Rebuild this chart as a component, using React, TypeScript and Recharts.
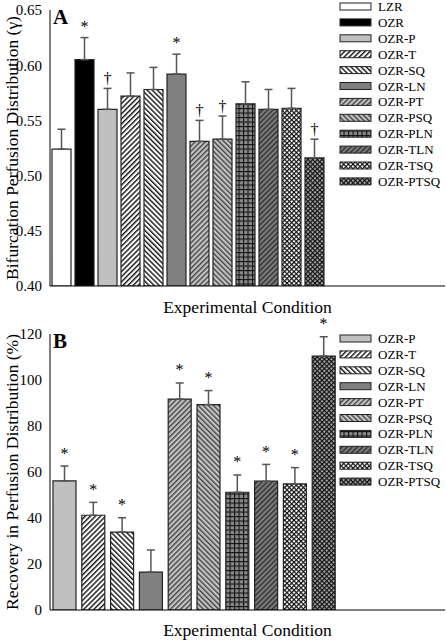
import React from 'react';
import { ComposedChart, Bar, Line, XAxis, YAxis, ErrorBar, Cell, LabelList, Legend } from 'recharts';

// ---------- data ----------
const topCategories = ['LZR', 'OZR', 'OZR-P', 'OZR-T', 'OZR-SQ', 'OZR-LN', 'OZR-PT', 'OZR-PSQ', 'OZR-PLN', 'OZR-TLN', 'OZR-TSQ', 'OZR-PTSQ'];
const topValues = [0.524, 0.605, 0.560, 0.572, 0.578, 0.592, 0.531, 0.533, 0.565, 0.560, 0.561, 0.516];
const topErrors = [0.018, 0.020, 0.019, 0.021, 0.020, 0.018, 0.019, 0.021, 0.020, 0.018, 0.018, 0.017];
const topMarks = ['', '*', '†', '', '', '*', '†', '†', '', '', '', '†'];
const topTicks = [0.4, 0.45, 0.5, 0.55, 0.6, 0.65];

const bottomCategories = ['OZR-P', 'OZR-T', 'OZR-SQ', 'OZR-LN', 'OZR-PT', 'OZR-PSQ', 'OZR-PLN', 'OZR-TLN', 'OZR-TSQ', 'OZR-PTSQ'];
const bottomValues = [56.1, 41.2, 33.9, 16.5, 91.7, 89.3, 51.2, 56.0, 54.8, 110.4];
const bottomErrors = [6.5, 5.6, 6.2, 9.6, 7.0, 6.1, 7.5, 7.3, 7.1, 8.4];
const bottomMarks = ['*', '*', '*', '', '*', '*', '*', '*', '*', '*'];
const bottomTicks = [0, 20, 40, 60, 80, 100, 120];

// ---------- styles ----------
const FONT = '"Liberation Serif", "Times New Roman", serif';
const fills: Record<string, string> = {
  'LZR': '#ffffff',
  'OZR': '#000000',
  'OZR-P': '#c0c0c0',
  'OZR-T': 'url(#pT)',
  'OZR-SQ': 'url(#pSQ)',
  'OZR-LN': '#808080',
  'OZR-PT': 'url(#pPT)',
  'OZR-PSQ': 'url(#pPSQ)',
  'OZR-PLN': 'url(#pPLN)',
  'OZR-TLN': 'url(#pTLN)',
  'OZR-TSQ': 'url(#pTSQ)',
  'OZR-PTSQ': 'url(#pPTSQ)',
};

const buildRows = (cats: string[], vals: number[], errs: number[], marks: string[]) =>
  cats.map((name, i) => ({
    name,
    value: vals[i],
    err: [0, errs[i]],
    top: vals[i] + errs[i],
    mark: marks[i],
  }));

const topData = buildRows(topCategories, topValues, topErrors, topMarks);
const bottomData = buildRows(bottomCategories, bottomValues, bottomErrors, bottomMarks);

const Hatch = ({ id, bg, fg, angle, period = 3.6, lw = 1.4 }: any) => (
  <pattern id={id} patternUnits="userSpaceOnUse" width={period} height={period} patternTransform={`rotate(${angle})`}>
    <rect width={period} height={period} fill={bg} />
    <rect width={lw} height={period} fill={fg} />
  </pattern>
);

const Cross = ({ id, bg, fg, period = 3.3, lw = 1.2 }: any) => (
  <pattern id={id} patternUnits="userSpaceOnUse" width={period} height={period} patternTransform="rotate(45)">
    <rect width={period} height={period} fill={bg} />
    <rect width={lw} height={period} fill={fg} />
    <rect width={period} height={lw} fill={fg} />
  </pattern>
);

const Patterns = () => (
  <svg width={0} height={0} style={{ position: 'absolute' }}>
    <defs>
      <Hatch id="pT" bg="#ffffff" fg="#111" angle={45} />
      <Hatch id="pSQ" bg="#ffffff" fg="#111" angle={-45} />
      <Hatch id="pPT" bg="#c4c4c4" fg="#444" angle={45} />
      <Hatch id="pPSQ" bg="#c4c4c4" fg="#444" angle={-45} />
      <Hatch id="pTLN" bg="#7c7c7c" fg="#303030" angle={45} />
      <pattern id="pPLN" patternUnits="userSpaceOnUse" width={4.5} height={4.5}>
        <rect width={4.5} height={4.5} fill="#8a8a8a" />
        <rect width={1.1} height={4.5} fill="#111" />
        <rect width={4.5} height={1.1} fill="#111" />
      </pattern>
      <Cross id="pTSQ" bg="#ffffff" fg="#111" />
      <Cross id="pPTSQ" bg="#a8a8a8" fg="#111" />
    </defs>
  </svg>
);

const ROW = 15.9;
const PAD = 3;
const LegendBox = ({ items }: { items: string[] }) => (
  <svg width={110} height={items.length * ROW + 2 * PAD + 4} style={{ display: 'block' }}>
    {items.map((name, i) => {
      const cy = PAD + 3.5 + i * ROW;
      return (
        <g key={name}>
          <rect x={1} y={cy - 3.5} width={31} height={7} fill={fills[name]} stroke="#222" strokeWidth={1} />
          <text x={39} y={cy} dominantBaseline="central" fontSize={13} fontFamily={FONT} fill="#000">
            {name}
          </text>
        </g>
      );
    })}
  </svg>
);

const makeMarkLabel = (starGap: number, daggerGap: number) => (props: any) => {
  const { x, y, value } = props;
  if (!value) return null;
  const gap = value === '†' ? daggerGap : starGap;
  return (
    <text x={x} y={y - gap} textAnchor="middle" fontSize={16} fontFamily={FONT} fill="#000">
      {value}
    </text>
  );
};

const yLabel = (text: string) => (props: any) => {
  const vb = props.viewBox || {};
  const cy = vb.y + vb.height / 2;
  return (
    <text transform={`translate(18, ${cy}) rotate(-90)`} textAnchor="middle" fontSize={17.5} fontFamily={FONT} fill="#000">
      {text}
    </text>
  );
};

const Panel = ({ data, domain, ticks, fmt, height, marginTop, xHeight, padRight, barSize, yTitle, letter, letterY, legendTop, labelOffset, starGap, daggerGap }: any) => (
  <ComposedChart width={446} height={height} data={data} margin={{ top: marginTop, right: 1, bottom: 0, left: 0 }}>
    <text x={53} y={letterY} fontSize={21} fontWeight="bold" fontFamily={FONT} fill="#000">{letter}</text>
    <XAxis
      dataKey="name"
      type="category"
      height={xHeight}
      tick={false}
      tickLine={false}
      axisLine={{ stroke: '#000', strokeWidth: 1 }}
      padding={{ left: 0, right: padRight }}
      label={{ value: 'Experimental Condition', position: 'insideBottom', offset: labelOffset, fontSize: 17.5, fontFamily: FONT, fill: '#000' }}
    />
    <YAxis
      width={50}
      type="number"
      domain={domain}
      ticks={ticks}
      allowDataOverflow
      tickFormatter={fmt}
      tickLine={false}
      tickSize={4}
      tickMargin={4}
      axisLine={{ stroke: '#000', strokeWidth: 1 }}
      tick={{ fontSize: 15, fontFamily: FONT, fill: '#000' }}
      label={{ content: yLabel(yTitle) }}
    />
    <Legend
      layout="vertical"
      align="center"
      verticalAlign="middle"
      wrapperStyle={{ left: 339, top: legendTop, width: 110 }}
      content={() => <LegendBox items={data.map((d: any) => d.name)} />}
    />
    <Bar dataKey="value" barSize={barSize} stroke="#222" strokeWidth={1.2} isAnimationActive={false}>
      {data.map((d: any) => (
        <Cell key={d.name} fill={fills[d.name]} />
      ))}
      <ErrorBar dataKey="err" direction="y" width={4} stroke="#555" strokeWidth={1.5} />
    </Bar>
    <Line dataKey="top" stroke="none" dot={false} activeDot={false} isAnimationActive={false} legendType="none">
      <LabelList dataKey="mark" content={makeMarkLabel(starGap, daggerGap)} />
    </Line>
  </ComposedChart>
);

export default function App() {
  return (
    <div style={{ position: 'absolute', left: 0, top: 0, width: 446, height: 640, background: '#fff', fontFamily: FONT }}>
      <Patterns />
      <div style={{ position: 'absolute', left: 0, top: 0 }}>
        <Panel
          data={topData}
          domain={[0.4, 0.65]}
          ticks={topTicks}
          fmt={(v: number) => v.toFixed(2)}
          height={320}
          marginTop={10}
          xHeight={34}
          padRight={119}
          barSize={19}
          yTitle="Bifurcation Perfusion Distribution (γ)"
          letter="A"
          letterY={24}
          legendTop={0}
          labelOffset={7}
          starGap={6}
          daggerGap={4}
        />
      </div>
      <div style={{ position: 'absolute', left: 0, top: 300 }}>
        <Panel
          data={bottomData}
          domain={[0, 120]}
          ticks={bottomTicks}
          fmt={(v: number) => String(v)}
          height={340}
          marginTop={34}
          xHeight={30}
          padRight={107}
          barSize={23}
          yTitle="Recovery in Perfusion Distribution (%)"
          letter="B"
          letterY={48}
          legendTop={31.5}
          labelOffset={4}
          starGap={7.5}
          daggerGap={6}
        />
      </div>
    </div>
  );
}
